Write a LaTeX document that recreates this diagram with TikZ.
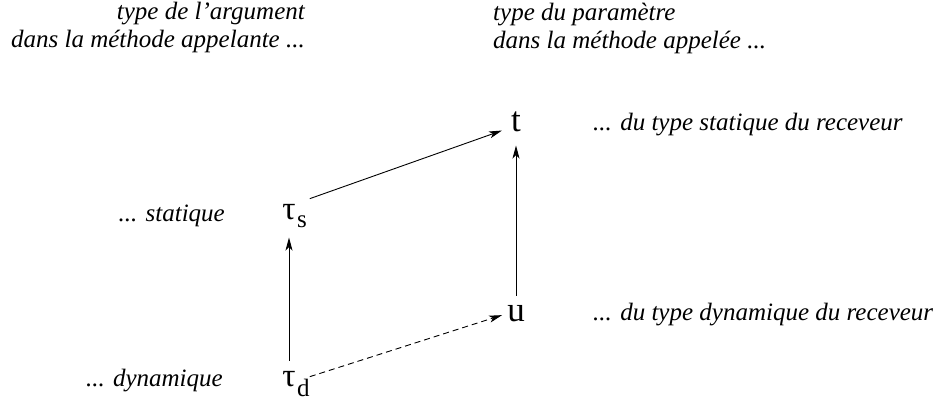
\documentclass[tikz,border=0pt]{standalone}
\usepackage{fontspec}
\setmainfont{Liberation Serif}
\usetikzlibrary{arrows.meta}
\begin{document}
\begin{tikzpicture}[x=1pt,y=-1pt,
  lbl/.style={font=\fontsize{25}{28}\selectfont\itshape, inner sep=0pt},
  sym/.style={font=\fontsize{35}{35}\selectfont, inner sep=0pt},
  tausym/.style={font=\fontsize{33}{33}\selectfont, inner sep=0pt},
  subs/.style={font=\fontsize{25}{25}\selectfont, inner sep=0pt},
  arr/.style={-{Stealth[length=13pt,width=7pt,inset=3.5pt]}, line width=0.9pt}]
\useasboundingbox (0,0) rectangle (943,403);
\node[lbl, anchor=base east] (h1a) at (305,20) {type de l'argument};
\node[lbl, anchor=base east] (h1b) at (305,48) {dans la méthode appelante ...};
\node[lbl, anchor=base west] (h2a) at (493,21) {type du paramètre};
\node[lbl, anchor=base west] (h2b) at (493,49) {dans la méthode appelée ...};
\node[sym, anchor=base] (t) at (516,132) {t};
\node[sym, anchor=base] (u) at (516,322) {u};
\node[tausym, anchor=base] (ts) at (289,220) {τ};
\node[subs, anchor=base west] (tss) at ([shift={(1,8)}]ts.base east) {s};
\node[tausym, anchor=base] (td) at (289,387) {τ};
\node[subs, anchor=base west] (tdd) at ([shift={(1,10)}]td.base east) {d};
\node[lbl, anchor=base east] (ls) at (225,222) {... statique};
\node[lbl, anchor=base east] (ld) at (223,387) {... dynamique};
\node[lbl, anchor=base west] (rs) at (593,131) {... du type statique du receveur};
\node[lbl, anchor=base west] (rd) at (593,321) {... du type dynamique du receveur};
\draw[arr] ([shift={(14,-6)}]ts.north east) -- ([shift={(-9,-2)}]t.south west);
\draw[arr] ([shift={(0,-11)}]td.north) -- ([shift={(0,17)}]ts.south);
\draw[arr] ([shift={(0,-10)}]u.north) -- ([shift={(0,13)}]t.south);
\draw[arr, dash pattern=on 6pt off 4pt] ([shift={(14,5)}]td.north east) -- ([shift={(-5,1)}]u.west);
\end{tikzpicture}
\end{document}
